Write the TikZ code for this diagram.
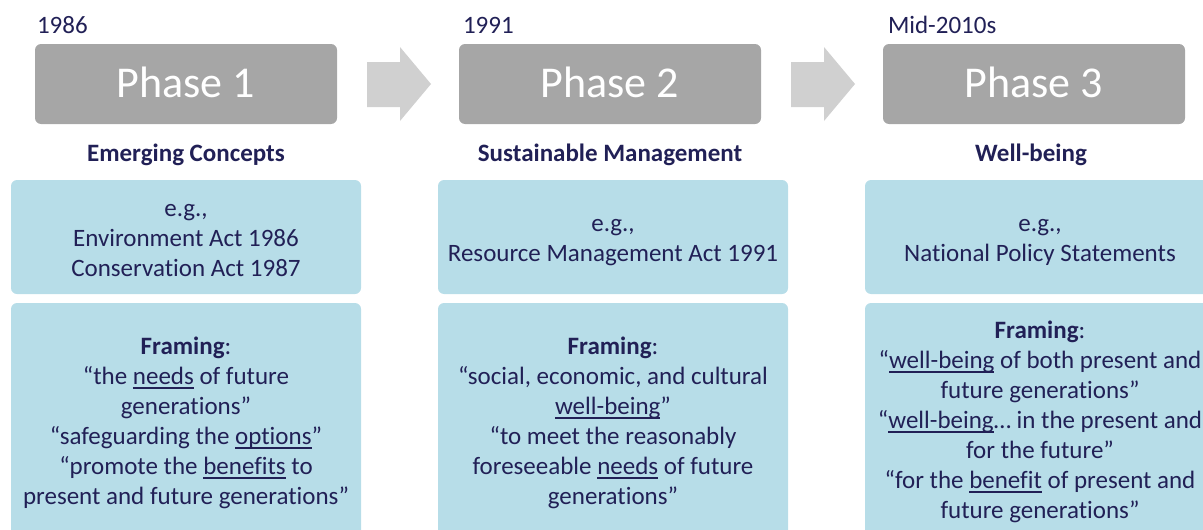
\documentclass[tikz,border=0pt]{standalone}
\usepackage{fontspec}
\setmainfont{Carlito}[Ligatures={NoCommon}]
\usetikzlibrary{calc}
\definecolor{ink}{HTML}{212056}
\definecolor{phasegray}{HTML}{A6A6A6}
\definecolor{arrowgray}{HTML}{D0D0D0}
\definecolor{paleblue}{HTML}{B7DDE8}
% underline at a fixed depth below the baseline
\newcommand\ulword[1]{\leavevmode\setbox0\hbox{#1}\rlap{\rule[-4.5pt]{\wd0}{1.4pt}}\box0\relax}
\begin{document}
\begin{tikzpicture}[x=1pt,y=-1pt,
  every node/.style={inner sep=0pt, outer sep=0pt},
  phasebox/.style={fill=phasegray, rounded corners=6pt, minimum width=302pt,
    minimum height=80pt},
  phaselabel/.style={anchor=base, text=white, font=\fontsize{44}{52}\selectfont},
  yearlabel/.style={anchor=base west, text=ink, font=\fontsize{25}{30}\selectfont},
  phasetitle/.style={anchor=base, text=ink, font=\bfseries\fontsize{25}{30}\selectfont},
  bluebox/.style={fill=paleblue, rounded corners=6pt, minimum width=350pt},
  boxtext/.style={anchor=base, align=center, text=ink, font=\fontsize{25}{30}\selectfont},
  stepfill/.style={fill=arrowgray}]
\useasboundingbox (0,0) rectangle (1203,530);
\clip (0,0) rectangle (1203,530);

% phase headers
\node[phasebox] (p1) at (186,84) {};
\node[phasebox] (p2) at (610,84) {};
\node[phasebox] (p3) at (1034,84) {};
\node[phaselabel] (pl1) at (186,97) {Phase 1};
\node[phaselabel] (pl2) at (610,97) {Phase 2};
\node[phaselabel] (pl3) at (1034,97) {Phase 3};

\node[yearlabel] (y1) at (37,34) {1986};
\node[yearlabel] (y2) at (463,34) {1991};
\node[yearlabel] (y3) at (888,34) {Mid-2010s};

% block arrows between phases
\foreach \a in {p1,p2}{
  \fill[stepfill] ($(\a.east)+(30,-22)$) -- ($(\a.east)+(63,-22)$) -- ($(\a.east)+(63,-37)$)
    -- ($(\a.east)+(94,0)$) -- ($(\a.east)+(63,37)$) -- ($(\a.east)+(63,23)$)
    -- ($(\a.east)+(30,23)$) -- cycle;
}

\node[phasetitle] (t1) at (186,161) {Emerging Concepts};
\node[phasetitle] (t2) at (610,161) {Sustainable Management};
\node[phasetitle] (t3) at (1031,161) {Well-being};

% example boxes
\node[bluebox, minimum height=114pt] (e1) at (186,237) {};
\node[bluebox, minimum height=114pt] (e2) at (613,237) {};
\node[bluebox, minimum height=114pt] (e3) at (1040,237) {};

% multi-line texts: base anchor sits on the last line
\node[boxtext] (ex1) at (186,276) {e.g.,\\Environment Act 1986\\Conservation Act 1987};
\node[boxtext] (ex2) at (613,261) {e.g.,\\Resource Management Act 1991};
\node[boxtext] (ex3) at (1040,261) {e.g.,\\National Policy Statements};

% framing boxes
\node[bluebox, minimum height=257pt] (f1) at (186,431.5) {};
\node[bluebox, minimum height=257pt] (f2) at (613,431.5) {};
\node[bluebox, minimum height=257pt] (f3) at (1040,431.5) {};

\node[boxtext] (fr1) at (186,504) {\textbf{Framing}:\\
  “the \ulword{needs} of future\\
  generations”\\
  “safeguarding the \ulword{options}”\\
  “promote the \ulword{benefits} to\\
  present and future generations”};
\node[boxtext] (fr2) at (613,504) {\textbf{Framing}:\\
  “social, economic, and cultural\\
  \ulword{well-being}”\\
  “to meet the reasonably\\
  foreseeable \ulword{needs} of future\\
  generations”};
\node[boxtext] (fr3) at (1040,518) {\textbf{Framing}:\\
  “\ulword{well-being} of both present and\\
  future generations”\\
  “\ulword{well-being}… in the present and\\
  for the future”\\
  “for the \ulword{benefit} of present and\\
  future generations”};
\end{tikzpicture}
\end{document}
